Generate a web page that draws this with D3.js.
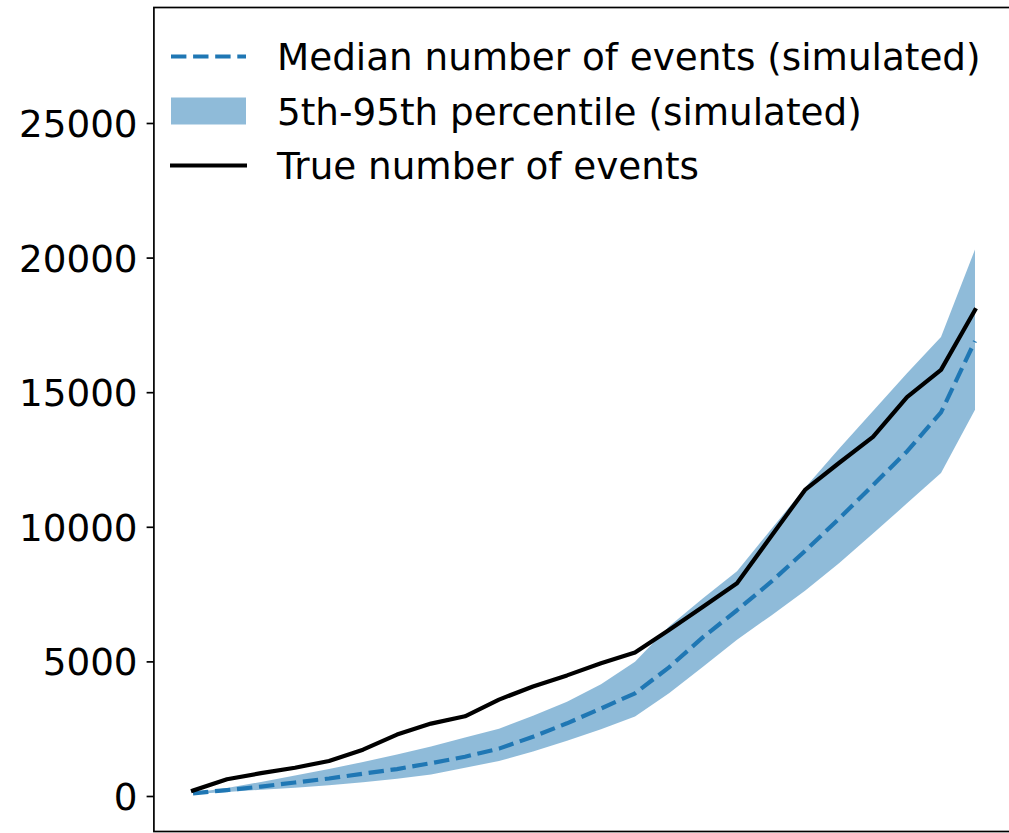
<!DOCTYPE html>
<html>
<head>
<meta charset="utf-8">
<script src="https://cdn.jsdelivr.net/npm/d3@7"></script>
<style>
  html, body { margin: 0; padding: 0; background: #fff; }
  svg { display: block; }
  text { font-family: "DejaVu Sans", sans-serif; fill: #000; }
</style>
</head>
<body>
<div id="chart"></div>
<script>
// ---- data ----
const steps = d3.range(24);
const trueEvents = [200, 620, 850, 1050, 1300, 1720, 2280, 2690, 2960, 3580, 4070, 4480,
                    4930, 5330, 6170, 7030, 7900, 9640, 11370, 12370, 13340, 14820, 15830, 18050];
const medianSim  = [100, 220, 350, 500, 650, 830, 1000, 1220, 1460, 1760, 2200, 2700,
                    3250, 3815, 4780, 5900, 6900, 7950, 9100, 10300, 11550, 12800, 14250, 16900];
const p05Sim     = [70, 150, 230, 310, 400, 510, 640, 800, 1050, 1300, 1650, 2050,
                    2480, 2950, 3820, 4800, 5800, 6700, 7620, 8650, 9750, 10870, 12000, 14350];
const p95Sim     = [120, 300, 520, 760, 1000, 1260, 1540, 1840, 2170, 2500, 2980, 3500,
                    4150, 4990, 6300, 7350, 8350, 9900, 11450, 12900, 14300, 15700, 17050, 20300];
const yTicks = [0, 5000, 10000, 15000, 20000, 25000];
const legendLabels = ["Median number of events (simulated)", "5th-95th percentile (simulated)", "True number of events"];

// ---- layout ----
const W = 1009, H = 833;
const axLeft = 153.9, axRight = 1014.1, axTop = 7.5, axBottom = 831.5;
const blue = "#1f77b4";
const bandColor = "rgba(31,119,180,0.5)";
const fontSize = 37.3;

const svg = d3.select("#chart").append("svg").attr("width", W).attr("height", H);

const x = d3.scaleLinear().domain([-1.15, 24.15]).range([axLeft, axRight]);
const y = d3.scaleLinear().domain([-1319, 29290]).range([axBottom, axTop]);

svg.append("defs").append("clipPath").attr("id", "clip")
  .append("rect").attr("x", axLeft).attr("y", axTop).attr("width", axRight - axLeft).attr("height", axBottom - axTop);

const plot = svg.append("g").attr("clip-path", "url(#clip)");

// band
const area = d3.area().x(i => x(i)).y0(i => y(p05Sim[i])).y1(i => y(p95Sim[i]));
plot.append("path").attr("d", area(steps)).attr("fill", bandColor).attr("stroke", "none");

// median
const lineOf = arr => d3.line().x(i => x(i)).y(i => y(arr[i]));
plot.append("path").attr("d", lineOf(medianSim)(steps))
  .attr("fill", "none").attr("stroke", blue).attr("stroke-width", 4.2)
  .attr("stroke-dasharray", "15.4,6.7").attr("stroke-linejoin", "round");

// true
plot.append("path").attr("d", lineOf(trueEvents)(steps))
  .attr("fill", "none").attr("stroke", "#000").attr("stroke-width", 4.2)
  .attr("stroke-linejoin", "round").attr("stroke-linecap", "square");

// frame
svg.append("rect").attr("x", axLeft).attr("y", axTop).attr("width", axRight - axLeft).attr("height", axBottom - axTop)
  .attr("fill", "none").attr("stroke", "#000").attr("stroke-width", 1.7);

// y axis
const yAxis = d3.axisLeft(y).tickValues(yTicks).tickSize(7.3).tickPadding(9).tickFormat(d3.format("d"));
const gy = svg.append("g").attr("transform", `translate(${axLeft},0)`).call(yAxis);
gy.select(".domain").remove();
gy.selectAll(".tick line").attr("stroke", "#000").attr("stroke-width", 1.7);
gy.selectAll(".tick text").attr("font-family", "DejaVu Sans").attr("font-size", fontSize).attr("fill", "#000")
  .attr("dy", "0.36em");

// legend
const lg = svg.append("g");
const rowY = [56.5, 111, 165.5];
const hx0 = 171, hx1 = 246, tx = 277;
lg.append("line").attr("x1", hx0).attr("x2", hx1).attr("y1", rowY[0]).attr("y2", rowY[0])
  .attr("stroke", blue).attr("stroke-width", 4.2).attr("stroke-dasharray", "15.4,6.7");
lg.append("rect").attr("x", hx0).attr("y", rowY[1] - 13.5).attr("width", hx1 - hx0).attr("height", 27)
  .attr("fill", bandColor);
lg.append("line").attr("x1", hx0 - 1).attr("x2", hx1 + 1).attr("y1", rowY[2]).attr("y2", rowY[2])
  .attr("stroke", "#000").attr("stroke-width", 4.2);
legendLabels.forEach((t, i) => {
  lg.append("text").attr("x", tx).attr("y", rowY[i] + 13.8).attr("font-size", fontSize).text(t);
});
</script>
</body>
</html>
